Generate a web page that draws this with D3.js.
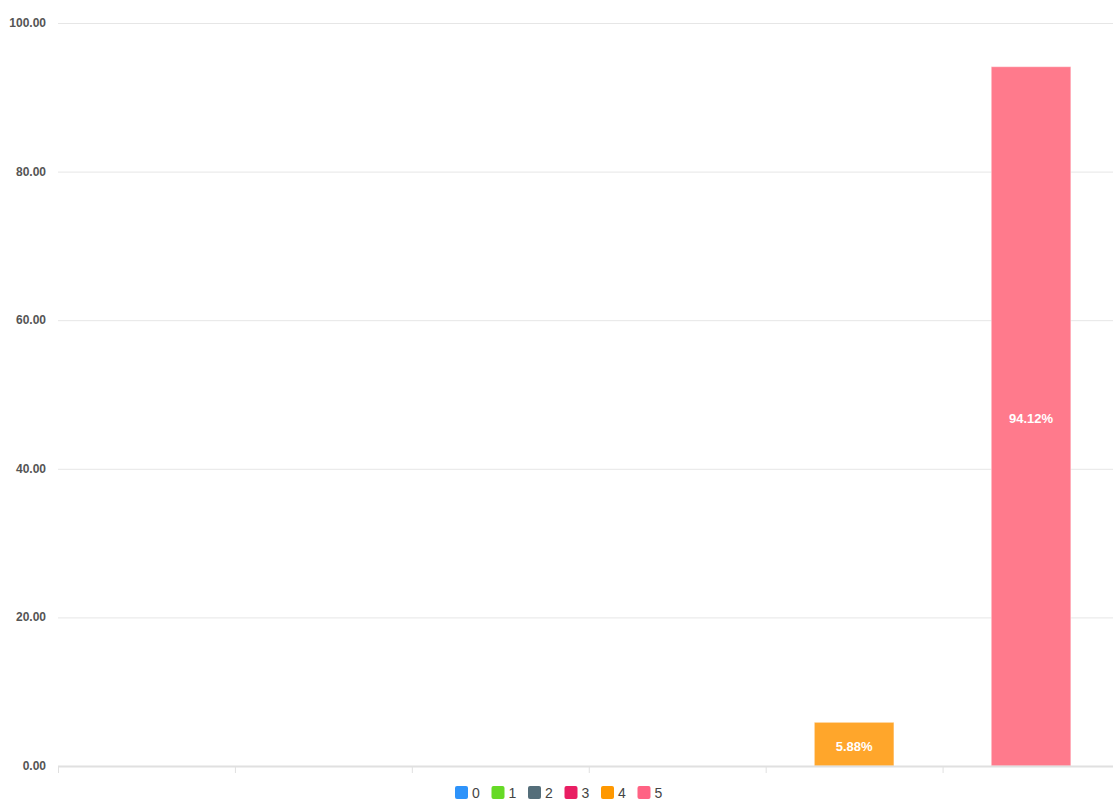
<!DOCTYPE html>
<html lang="en">
<head>
  <meta charset="UTF-8">
  <title>Bar Chart - D3</title>
  <script src="https://d3js.org/d3.v7.min.js"></script>
  <style>
    body { margin: 0; background: #fff; font-family: "Liberation Sans", Arial, sans-serif; overflow: hidden; }
    .axis text { font-size: 12px; fill: #555; font-weight: bold; }
    .grid line { stroke: #e6e6e6; }
    .label { fill: #fff; font-size: 13px; font-weight: bold; text-anchor: middle; }
    .legend text { font-size: 14px; fill: #444; }
  </style>
</head>
<body>
<script>
  var categories = ["0", "1", "2", "3", "4", "5"];
  var values = [0, 0, 0, 0, 5.88, 94.12];
  var legendColors = ["#2e93fa", "#66da26", "#546e7a", "#e91e63", "#ff9800", "#ff6384"];
  var barColors = ["#2e93fa", "#66da26", "#546e7a", "#e91e63", "#ffa62b", "#ff7a8c"];
  var yTicks = [0, 20, 40, 60, 80, 100];

  var W = 1113, H = 802;
  var mLeft = 58, mRight = 1119.5, mTop = 23, mBottom = 766;

  var svg = d3.select("body").append("svg").attr("width", W).attr("height", H);

  var x = d3.scaleBand().domain(categories).range([mLeft, mRight]).paddingInner(0).paddingOuter(0);
  var y = d3.scaleLinear().domain([0, 100]).range([mBottom, mTop]);

  // grid
  svg.append("g").attr("class", "grid")
    .selectAll("line").data(yTicks.filter(d => d > 0)).enter().append("line")
    .attr("x1", mLeft).attr("x2", W).attr("y1", d => y(d) + 0.5).attr("y2", d => y(d) + 0.5);

  // y axis labels
  svg.append("g").attr("class", "axis")
    .selectAll("text").data(yTicks).enter().append("text")
    .attr("x", 46).attr("y", d => y(d) + 4).attr("text-anchor", "end")
    .text(d => d.toFixed(2));

  // bars
  var data = categories.map((c, i) => ({ cat: c, value: values[i], color: barColors[i] }))
    .filter(d => d.value > 0);
  var bw = x.bandwidth() * 0.45;
  svg.selectAll(".bar").data(data).enter().append("rect")
    .attr("class", "bar")
    .attr("x", d => x(d.cat) + (x.bandwidth() - bw) / 2)
    .attr("width", bw)
    .attr("y", d => y(d.value))
    .attr("height", d => y(0) - y(d.value))
    .attr("fill", d => d.color)
    .attr("stroke", "rgba(255,255,255,0.45)")
    .attr("stroke-width", 1);

  svg.selectAll(".label").data(data).enter().append("text")
    .attr("class", "label")
    .attr("x", d => x(d.cat) + x.bandwidth() / 2)
    .attr("y", d => (y(d.value) + y(0)) / 2 + 7)
    .text(d => d.value.toFixed(2) + "%");

  // x axis
  var xa = svg.append("g").attr("class", "xaxis");
  xa.append("line").attr("x1", mLeft).attr("x2", W).attr("y1", mBottom + 0.5).attr("y2", mBottom + 0.5)
    .attr("stroke", "#e0e0e0").attr("stroke-width", 2);
  xa.selectAll(".tick").data(categories).enter().append("line")
    .attr("x1", d => x(d) + 0.5).attr("x2", d => x(d) + 0.5)
    .attr("y1", mBottom + 1).attr("y2", mBottom + 7)
    .attr("stroke", "#e0e0e0");

  // legend
  var itemW = 36.5, startX = 455;
  var lg = svg.append("g").attr("class", "legend");
  var items = lg.selectAll("g").data(categories).enter().append("g")
    .attr("transform", (d, i) => "translate(" + (startX + i * itemW) + ",786)");
  items.append("rect").attr("width", 13).attr("height", 13).attr("rx", 2)
    .attr("fill", (d, i) => legendColors[i]);
  items.append("text").attr("x", 17).attr("y", 12).text(d => d);
</script>
</body>
</html>
